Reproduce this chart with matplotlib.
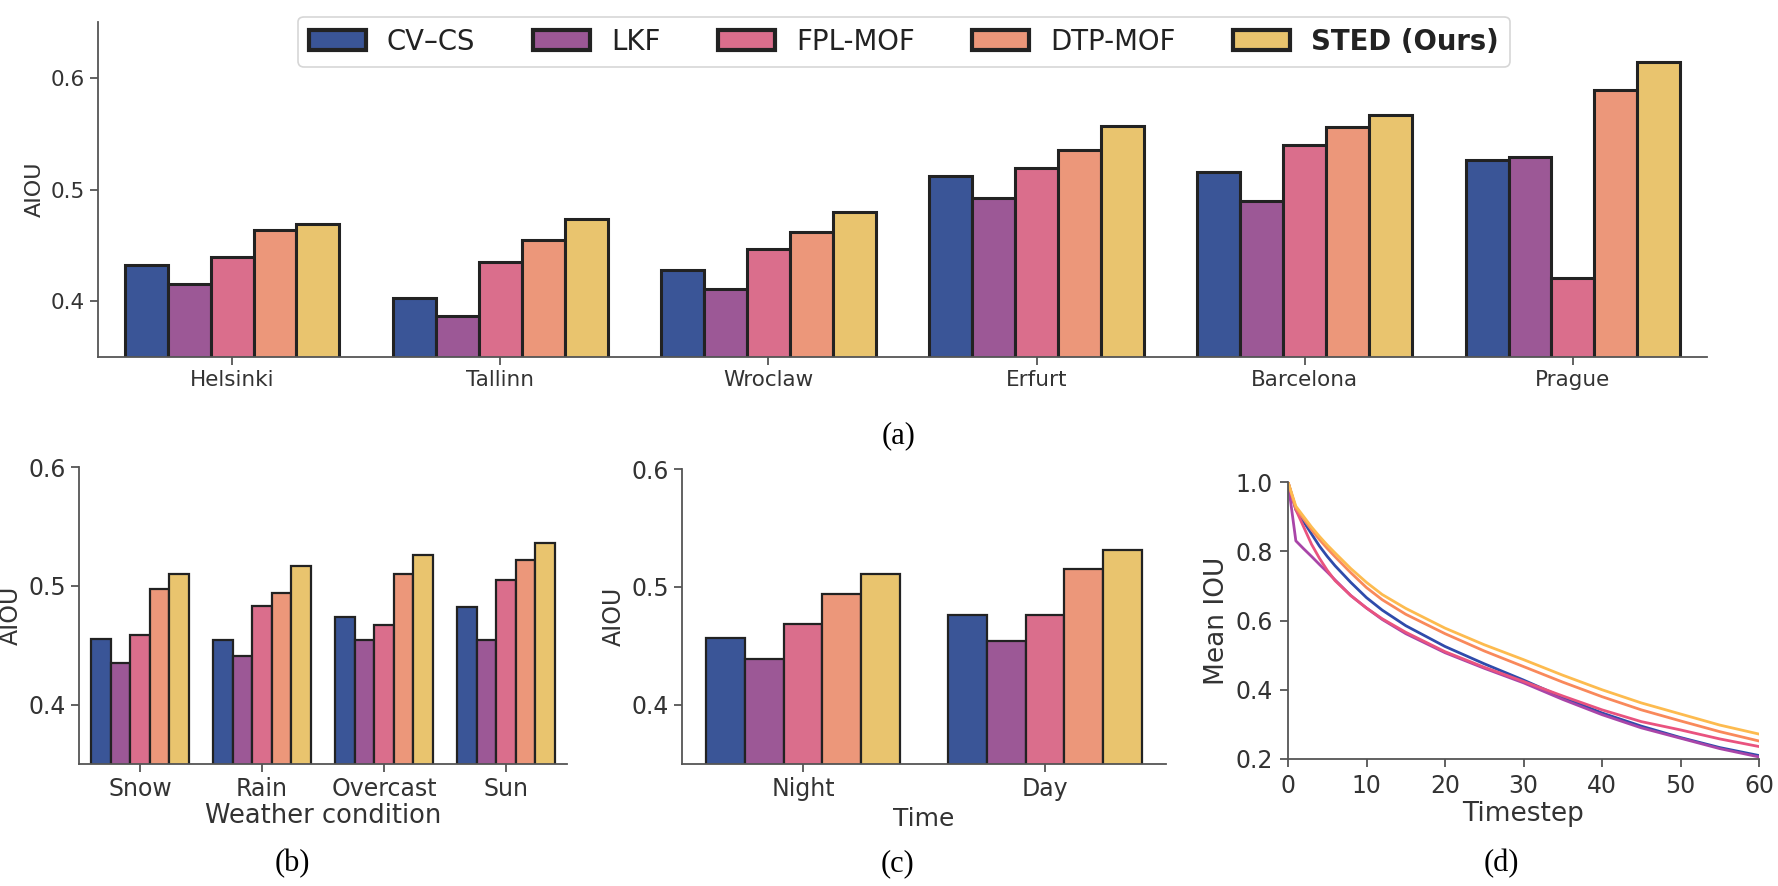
import numpy as np
import matplotlib.pyplot as plt

# ---- data ----
methods = ['CV–CS', 'LKF', 'FPL-MOF', 'DTP-MOF', 'STED (Ours)']
bar_colors = ['#3a5597', '#9c5896', '#da6e8c', '#ec977a', '#e9c46e']
line_colors = ['#2f4bab', '#a945a8', '#e9537f', '#f9895b', '#fdbb4f']

cities = ['Helsinki', 'Tallinn', 'Wroclaw', 'Erfurt', 'Barcelona', 'Prague']
city_cvcs = [0.432, 0.403, 0.428, 0.512, 0.516, 0.526]
city_lkf = [0.415, 0.387, 0.411, 0.492, 0.490, 0.529]
city_fpl = [0.440, 0.435, 0.447, 0.519, 0.540, 0.421]
city_dtp = [0.464, 0.455, 0.462, 0.535, 0.556, 0.589]
city_sted = [0.469, 0.474, 0.480, 0.557, 0.567, 0.614]

weather = ['Snow', 'Rain', 'Overcast', 'Sun']
weather_cvcs = [0.455, 0.454, 0.474, 0.482]
weather_lkf = [0.435, 0.441, 0.454, 0.454]
weather_fpl = [0.459, 0.483, 0.467, 0.505]
weather_dtp = [0.497, 0.494, 0.510, 0.522]
weather_sted = [0.510, 0.517, 0.526, 0.536]

times = ['Night', 'Day']
time_cvcs = [0.457, 0.476]
time_lkf = [0.439, 0.454]
time_fpl = [0.469, 0.476]
time_dtp = [0.494, 0.515]
time_sted = [0.511, 0.531]

timestep = [0, 1, 2, 3, 4, 5, 6, 8, 10, 12, 15, 20, 25, 30, 35, 40, 45, 50, 55, 60]
iou_cvcs = [1.0, 0.92, 0.885, 0.85, 0.815, 0.785, 0.758, 0.71, 0.666, 0.63, 0.585,
            0.525, 0.475, 0.428, 0.378, 0.333, 0.295, 0.262, 0.233, 0.21]
iou_lkf = [1.0, 0.83, 0.807, 0.785, 0.762, 0.74, 0.717, 0.672, 0.636, 0.603, 0.562,
           0.507, 0.462, 0.42, 0.372, 0.328, 0.29, 0.26, 0.23, 0.206]
iou_fpl = [1.0, 0.92, 0.87, 0.82, 0.78, 0.745, 0.715, 0.672, 0.636, 0.605, 0.566,
           0.51, 0.465, 0.424, 0.382, 0.342, 0.308, 0.284, 0.258, 0.236]
iou_dtp = [1.0, 0.925, 0.893, 0.862, 0.834, 0.808, 0.784, 0.738, 0.695, 0.66, 0.618,
           0.562, 0.512, 0.467, 0.422, 0.38, 0.342, 0.31, 0.279, 0.252]
iou_sted = [1.0, 0.93, 0.90, 0.87, 0.843, 0.818, 0.795, 0.75, 0.71, 0.675, 0.635,
            0.578, 0.53, 0.487, 0.442, 0.40, 0.362, 0.33, 0.298, 0.272]

W, H = 1778, 886
fig = plt.figure(figsize=(W / 100, H / 100), dpi=100)
plt.rcParams['font.family'] = 'DejaVu Sans'
txt = '#333333'
spine_c = '#555555'


def px_axes(l, t, r, b):
    return fig.add_axes([l / W, 1 - b / H, (r - l) / W, (b - t) / H])


def style(ax, fs, pad=3.5):
    for s in ['top', 'right']:
        ax.spines[s].set_visible(False)
    for s in ['left', 'bottom']:
        ax.spines[s].set_color(spine_c)
        ax.spines[s].set_linewidth(1.3)
    ax.tick_params(colors=txt, labelsize=fs, length=6, width=1.3, color=spine_c, pad=pad)


def grouped(ax, cats, series, lw):
    x = np.arange(len(cats))
    w = 0.16
    for i, vals in enumerate(series):
        ax.bar(x + (i - 2) * w, vals, w, color=bar_colors[i], edgecolor='#222222',
               linewidth=lw, label=methods[i])
    ax.set_xticks(x)
    ax.set_xticklabels(cats)
    ax.set_xlim(-0.5, len(cats) - 0.5)


# (a) cities
ax_a = px_axes(98, 22, 1707, 357)
grouped(ax_a, cities, [city_cvcs, city_lkf, city_fpl, city_dtp, city_sted], 2.2)
ax_a.set_ylim(0.35, 0.65)
ax_a.set_yticks([0.4, 0.5, 0.6])
ax_a.set_ylabel('AIOU', fontsize=16, color=txt)
style(ax_a, 15.5)

leg = ax_a.legend(loc='upper center', bbox_to_anchor=(904 / W, 1 - 3 / H),
                  bbox_transform=fig.transFigure, ncol=5, fontsize=19.8,
                  handlelength=2.07, handleheight=0.76, handletextpad=0.76,
                  columnspacing=2.1, borderpad=0.4, frameon=True, fancybox=True)
leg.get_frame().set_edgecolor('#cccccc')
leg.get_frame().set_linewidth(1.2)
for t in leg.get_texts():
    t.set_color('#222222')
leg.get_texts()[-1].set_fontweight('bold')
for p in leg.get_patches():
    p.set_linewidth(3)

# (b) weather
ax_b = px_axes(79, 467, 567, 764)
grouped(ax_b, weather, [weather_cvcs, weather_lkf, weather_fpl, weather_dtp, weather_sted], 1.6)
ax_b.set_ylim(0.35, 0.6)
ax_b.set_yticks([0.4, 0.5, 0.6])
ax_b.set_ylabel('AIOU', fontsize=17, color=txt)
ax_b.set_xlabel('Weather condition', fontsize=18.5, color=txt, labelpad=1)
style(ax_b, 17)

# (c) time of day
ax_c = px_axes(682, 469, 1166, 764)
grouped(ax_c, times, [time_cvcs, time_lkf, time_fpl, time_dtp, time_sted], 1.6)
ax_c.set_ylim(0.35, 0.6)
ax_c.set_yticks([0.4, 0.5, 0.6])
ax_c.set_ylabel('AIOU', fontsize=17, color=txt)
ax_c.set_xlabel('Time', fontsize=18, color=txt, labelpad=4)
style(ax_c, 17)

# (d) mean IOU over timesteps
ax_d = px_axes(1288, 482, 1759, 759)
for i, vals in enumerate([iou_cvcs, iou_lkf, iou_fpl, iou_dtp, iou_sted]):
    ax_d.plot(timestep, vals, color=line_colors[i], linewidth=2, label=methods[i])
ax_d.set_xlim(0, 60)
ax_d.set_ylim(0.2, 1.0)
ax_d.set_xticks([0, 10, 20, 30, 40, 50, 60])
ax_d.set_yticks([0.2, 0.4, 0.6, 0.8, 1.0])
ax_d.set_ylabel('Mean IOU', fontsize=19, color=txt, labelpad=4)
ax_d.set_xlabel('Timestep', fontsize=19, color=txt, labelpad=2)
style(ax_d, 17, pad=5)

# captions
for lab, cx, cy in [('(a)', 899, 436), ('(b)', 292, 864), ('(c)', 897, 864), ('(d)', 1501, 864)]:
    fig.text(cx / W, 1 - cy / H, lab, ha='center', va='center', fontsize=22,
             family='Liberation Serif', color='black')

fig.savefig('out.png', dpi=100)
